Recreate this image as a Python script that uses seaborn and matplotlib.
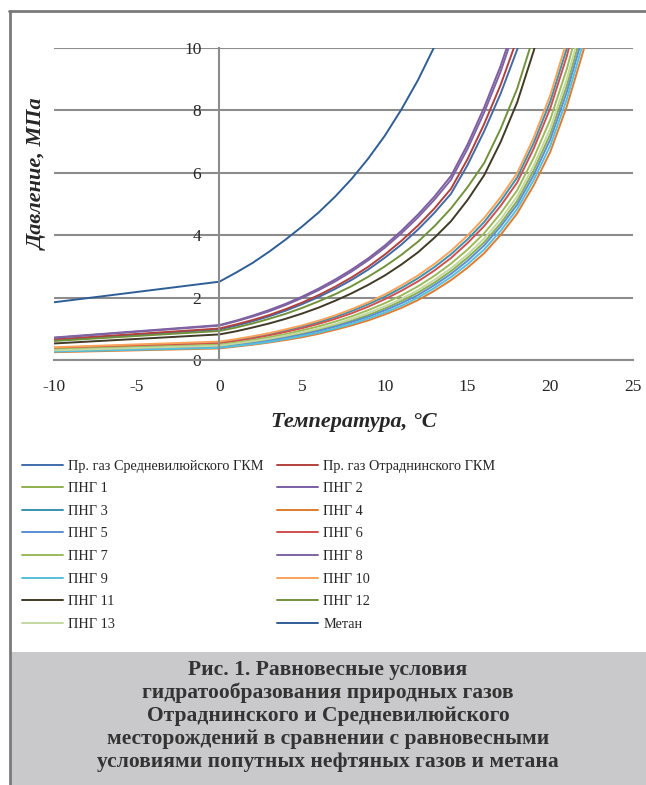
import pandas as pd
import matplotlib
matplotlib.use('Agg')
import matplotlib.pyplot as plt
from matplotlib.patches import Rectangle
from matplotlib.lines import Line2D
import seaborn as sns

sns.set_style('white')
plt.rcParams['font.family'] = ['Liberation Serif', 'DejaVu Serif']
plt.rcParams['axes.unicode_minus'] = False

# temperatures, deg C (common grid, each curve uses as many points as it has)
temps = [-10, 0, 1, 2, 3, 4, 5, 6, 7, 8, 9, 10, 11, 12, 13, 14, 15, 16, 17,
         18, 19, 20, 21, 22, 23, 24]

gas_names = ['Пр. газ Средневилюйского ГКМ', 'Пр. газ Отраднинского ГКМ',
             'ПНГ 1', 'ПНГ 2', 'ПНГ 3', 'ПНГ 4', 'ПНГ 5', 'ПНГ 6',
             'ПНГ 7', 'ПНГ 8', 'ПНГ 9', 'ПНГ 10', 'ПНГ 11', 'ПНГ 12',
             'ПНГ 13', 'Метан']
gas_colors = ['#3F6CA9', '#B2413E', '#8CB04F', '#7B5EA4', '#3A93AE', '#E07C2E',
              '#5B8ED3', '#D0504F', '#9BBB59', '#8064A2', '#57BFDA', '#F9A25A',
              '#403A26', '#71923B', '#C4D7A0', '#2F5E96']

# equilibrium pressure, MPa
p_sredneviluy = [0.64, 0.98, 1.10, 1.24, 1.40, 1.58, 1.79, 2.02, 2.28, 2.57, 2.90,
                 3.28, 3.70, 4.18, 4.72, 5.33, 6.25, 7.33, 8.54, 9.95, 11.59]
p_otradnoe = [0.66, 1.01, 1.14, 1.28, 1.44, 1.63, 1.84, 2.08, 2.35, 2.65, 2.99,
              3.38, 3.82, 4.31, 4.86, 5.49, 6.44, 7.56, 8.82, 10.3]
p_png1 = [0.30, 0.43, 0.50, 0.57, 0.65, 0.74, 0.85, 0.97, 1.11, 1.26, 1.44, 1.65,
          1.89, 2.16, 2.48, 2.85, 3.28, 3.77, 4.38, 5.10, 6.08, 7.24, 8.79, 10.67]
p_png2 = [0.72, 1.12, 1.26, 1.42, 1.60, 1.80, 2.03, 2.29, 2.58, 2.90, 3.26, 3.67,
          4.14, 4.66, 5.24, 5.90, 6.91, 8.09, 9.43, 11.0]
p_png3 = [0.39, 0.56, 0.64, 0.73, 0.83, 0.94, 1.07, 1.21, 1.38, 1.57, 1.79, 2.03,
          2.31, 2.62, 2.98, 3.39, 3.87, 4.42, 5.09, 5.85, 6.96, 8.29, 9.99, 12.04]
p_png4 = [0.25, 0.37, 0.43, 0.49, 0.56, 0.64, 0.73, 0.84, 0.97, 1.11, 1.27, 1.46,
          1.67, 1.92, 2.22, 2.56, 2.96, 3.42, 4.01, 4.70, 5.60, 6.67, 8.13, 9.91, 12.35]
p_png5 = [0.28, 0.41, 0.47, 0.54, 0.62, 0.71, 0.81, 0.93, 1.07, 1.22, 1.39, 1.59,
          1.82, 2.08, 2.40, 2.76, 3.18, 3.67, 4.28, 4.98, 5.93, 7.07, 8.59, 10.44]
p_png6 = [0.37, 0.54, 0.61, 0.69, 0.79, 0.90, 1.02, 1.16, 1.32, 1.50, 1.71, 1.95,
          2.22, 2.52, 2.87, 3.27, 3.75, 4.29, 4.94, 5.69, 6.78, 8.07, 9.74, 11.76]
p_png7 = [0.34, 0.49, 0.56, 0.64, 0.73, 0.83, 0.95, 1.08, 1.23, 1.40, 1.60, 1.82,
          2.07, 2.36, 2.70, 3.09, 3.54, 4.06, 4.70, 5.44, 6.48, 7.71, 9.33, 11.29]
p_png8 = [0.71, 1.10, 1.24, 1.39, 1.56, 1.76, 1.99, 2.24, 2.52, 2.84, 3.20, 3.60,
          4.06, 4.57, 5.14, 5.78, 6.77, 7.93, 9.25, 10.8]
p_png9 = [0.27, 0.39, 0.45, 0.51, 0.58, 0.67, 0.77, 0.88, 1.01, 1.16, 1.33, 1.52,
          1.74, 2.00, 2.31, 2.66, 3.07, 3.54, 4.14, 4.84, 5.77, 6.87, 8.36, 10.18]
p_png10 = [0.41, 0.59, 0.67, 0.76, 0.86, 0.98, 1.11, 1.26, 1.43, 1.63, 1.85, 2.10,
           2.39, 2.71, 3.08, 3.50, 3.99, 4.55, 5.22, 5.99, 7.13, 8.49, 10.22]
p_png11 = [0.53, 0.82, 0.92, 1.04, 1.17, 1.32, 1.49, 1.68, 1.90, 2.14, 2.41, 2.71,
           3.06, 3.45, 3.92, 4.45, 5.13, 5.92, 6.99, 8.26, 9.91, 11.9]
p_png12 = [0.61, 0.93, 1.04, 1.17, 1.32, 1.48, 1.67, 1.88, 2.11, 2.37, 2.67, 3.00,
           3.37, 3.79, 4.29, 4.86, 5.54, 6.31, 7.41, 8.70, 10.39]
p_png13 = [0.31, 0.46, 0.53, 0.60, 0.68, 0.78, 0.89, 1.01, 1.15, 1.32, 1.51, 1.72,
           1.96, 2.24, 2.57, 2.94, 3.38, 3.89, 4.51, 5.24, 6.24, 7.43, 9.01, 10.92]
p_methane = [1.85, 2.51, 2.80, 3.11, 3.47, 3.86, 4.28, 4.73, 5.24, 5.81, 6.46,
             7.19, 8.03, 8.97, 10.05, 11.3]

series = [p_sredneviluy, p_otradnoe, p_png1, p_png2, p_png3, p_png4, p_png5,
          p_png6, p_png7, p_png8, p_png9, p_png10, p_png11, p_png12, p_png13,
          p_methane]

rows = []
for name, vals in zip(gas_names, series):
    for t, p in zip(temps, vals):
        rows.append({'T': t, 'P': p, 'gas': name})
df = pd.DataFrame(rows)

W, H = 646, 785
gridc = '#8c8c8c'
fig = plt.figure(figsize=(W / 100, H / 100), dpi=100)
fig.patch.set_facecolor('white')
ax = fig.add_axes([54 / W, 1 - 360 / H, 579 / W, 312 / H])

sns.lineplot(data=df, x='T', y='P', hue='gas', hue_order=gas_names,
             palette=gas_colors, linewidth=1.4, sort=False, estimator=None, ax=ax)

ax.set_xlim(-10, 25)
ax.set_ylim(0, 10)
ax.set_xticks(range(-10, 26, 5))
ax.set_yticks(range(0, 11, 2))
ax.yaxis.grid(True, color=gridc, linewidth=1.5)
ax.set_axisbelow(True)
ax.set_xlabel('')
ax.set_ylabel('')
for s in ['top', 'right']:
    ax.spines[s].set_visible(False)
ax.spines['left'].set_position(('data', 0))
ax.spines['left'].set_color(gridc)
ax.spines['left'].set_linewidth(1.5)
ax.spines['bottom'].set_color(gridc)
ax.spines['bottom'].set_linewidth(1.5)
ax.tick_params(axis='x', length=5, width=1.5, color=gridc, labelsize=12.5, pad=9)
ax.tick_params(axis='y', length=0, labelsize=12.5, pad=13)

fig.text(38 / W, 1 - 174 / H, 'Давление, МПа', rotation=90, ha='center', va='center',
         fontsize=16, fontweight='bold', fontstyle='italic')
fig.text(354 / W, 1 - 422 / H, 'Температура, °C', ha='center', va='center',
         fontsize=16, fontweight='bold', fontstyle='italic')

# legend: two columns, filled row by row like the original
handles, labels = ax.get_legend_handles_labels()
ax.get_legend().remove()
leg_kw = dict(loc='upper left', frameon=False, fontsize=10.3, handlelength=2.87,
              handletextpad=0.37, labelspacing=0.67, borderpad=0, borderaxespad=0)
for col, x0 in [(0, 22), (1, 277)]:
    idx = list(range(col, 16, 2))
    fig.legend([handles[i] for i in idx], [labels[i] for i in idx],
               bbox_to_anchor=(x0 / W, 1 - 459.5 / H), **leg_kw)

# caption box
fig.patches.append(Rectangle((10 / W, 0), 1 - 10 / W, 133 / H, transform=fig.transFigure,
                             facecolor='#C9C9CB', edgecolor='none', zorder=0))
caption = ('Рис. 1. Равновесные условия\n'
           'гидратообразования природных газов\n'
           'Отраднинского и Средневилюйского\n'
           'месторождений в сравнении с равновесными\n'
           'условиями попутных нефтяных газов и метана')
fig.text(328 / W, 1 - 716 / H, caption, ha='center', va='center', fontsize=15.5,
         fontweight='bold', color='#333333', linespacing=1.2)

# outer frame
frame = '#7a7a7a'
fig.lines.append(Line2D([9 / W, 1], [1 - 10.5 / H, 1 - 10.5 / H], transform=fig.transFigure,
                        color=frame, linewidth=2))
fig.lines.append(Line2D([9.5 / W, 9.5 / W], [0, 1 - 10.5 / H], transform=fig.transFigure,
                        color=frame, linewidth=2))

fig.savefig('out.png', dpi=100)
